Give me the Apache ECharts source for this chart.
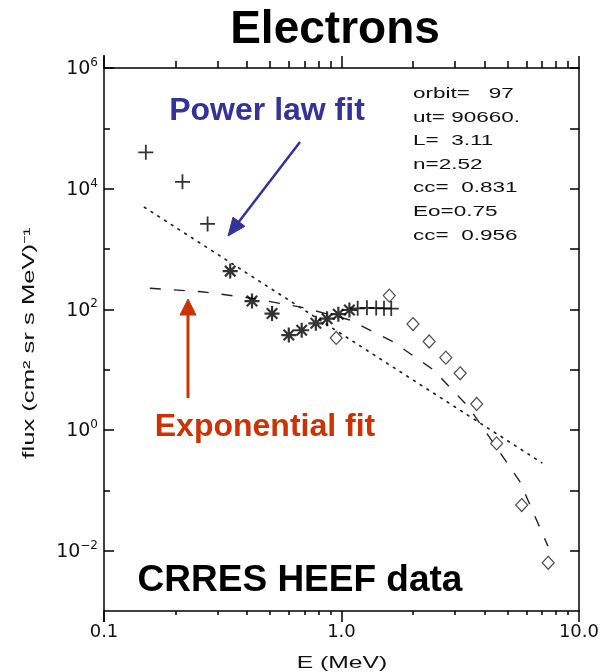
<!DOCTYPE html>
<html>
<head>
<meta charset="utf-8">
<script src="https://cdn.jsdelivr.net/npm/echarts@6/dist/echarts.min.js"></script>
<style>
html, body { margin: 0; padding: 0; background: #fff; }
#chart { width: 602px; height: 672px; }
</style>
</head>
<body>
<div id="chart"></div>
<script>
// CRRES HEEF electron spectrum: energy E (MeV) against differential flux.
// Both axes are logarithmic; values are kept in physical units and mapped
// to log10 space for the value axes below.

// Low-energy channels (+)
const lowPlusE = [0.150, 0.214, 0.273];
const lowPlusFlux = [40000, 13000, 2600];

// Mid-energy channels (*)
const starE = [0.34, 0.42, 0.51, 0.60, 0.68, 0.78, 0.87, 0.97, 1.08];
const starFlux = [430, 137, 85, 37.5, 45, 58.6, 70, 83, 97.5];

// Overlapping channels near 1 MeV (+)
const highPlusE = [1.17, 1.28, 1.40, 1.51, 1.62];
const highPlusFlux = [104, 106, 105, 104, 103];

// High-energy channels (diamonds)
const diamondE = [0.95, 1.59, 2.0, 2.34, 2.75, 3.16, 3.71, 4.50, 5.74, 7.42];
const diamondFlux = [33.5, 169, 57, 29.3, 15.8, 8.7, 2.7, 0.60, 0.057, 0.0063];

// Power-law fit (dotted), n = 2.52
const powerLawE = [0.148, 6.97];
const powerLawFlux = [4910, 0.287];

// Exponential fit (dashed), Eo = 0.75
const expFitE = [0.156, 0.258, 0.412, 0.682, 1.086, 1.65, 2.44, 3.42, 4.43, 5.64, 7.40];
const expFitFlux = [223, 196, 154, 108, 66.5, 29, 9.9, 2.43, 0.56, 0.139, 0.0119];

// Axis ticks
const xMajorTicks = [0.1, 1, 10];
const xTickLabels = ['0.1', '1.0', '10.0'];
const xMinorTicks = [0.2, 0.3, 0.4, 0.5, 0.6, 0.7, 0.8, 0.9, 2, 3, 4, 5, 6, 7, 8, 9];
const yLabelledDecades = [-2, 0, 2, 4, 6];
const yMinorDecades = [-1, 1, 3, 5];
const yRange = [-3, 6];

// Fit parameters printed in the corner
const paramLines = ['orbit=   97', 'ut= 90660.', 'L=  3.11', 'n=2.52', 'cc=  0.831', 'Eo=0.75', 'cc=  0.956'];

const lg = Math.log10;
const pairs = (xs, ys) => xs.map((x, i) => [lg(x), lg(ys[i])]);

const INK = '#000';
const AXIS_FONT = 'DejaVu Sans';
const SANS = 'Liberation Sans, Arial, sans-serif';

const plusPath = 'path://M0,5L10,5M5,0L5,10';
const starPath = 'path://M0,5L10,5M5,0L5,10M1.5,1.5L8.5,8.5M8.5,1.5L1.5,8.5';

function xAxisDef(position, values, len, withLine, withLabels) {
  return {
    type: 'value', position: position, min: -1, max: 1, interval: 1,
    axisLine: { show: withLine, onZero: false, lineStyle: { color: INK, width: 1.5 } },
    axisTick: { show: true, inside: false, length: len, customValues: values,
      lineStyle: { color: INK, width: 1.5 } },
    axisLabel: withLabels ? {
      show: true, margin: 12, fontSize: 18, color: '#111', fontFamily: AXIS_FONT,
      formatter: function (v) {
        const i = xMajorTicks.findIndex(t => Math.abs(lg(t) - v) < 1e-6);
        return i >= 0 ? xTickLabels[i] : '';
      }
    } : { show: false },
    splitLine: { show: false }
  };
}

function yAxisDef(position, values, len, withLine, withLabels) {
  return {
    type: 'value', position: position, min: yRange[0], max: yRange[1], interval: 1,
    axisLine: { show: withLine, onZero: false, lineStyle: { color: INK, width: 1.5 } },
    axisTick: { show: true, inside: true, length: len, customValues: values,
      lineStyle: { color: INK, width: 1.5 } },
    axisLabel: withLabels ? {
      show: true, margin: 6, customValues: values,
      formatter: function (v) {
        const e = Math.round(v);
        return '{b|10}{s|' + (e < 0 ? '\u2212' + (-e) : e) + '}';
      },
      rich: {
        b: { fontSize: 19, fontFamily: AXIS_FONT, color: '#111', lineHeight: 22, verticalAlign: 'bottom' },
        s: { fontSize: 12, fontFamily: AXIS_FONT, color: '#111', lineHeight: 12, verticalAlign: 'top' }
      }
    } : { show: false },
    splitLine: { show: false }
  };
}

function arrow(tail, tip, color, width, headLen, headHalf) {
  const dx = tip[0] - tail[0], dy = tip[1] - tail[1];
  const d = Math.hypot(dx, dy);
  const ux = dx / d, uy = dy / d;
  const bx = tip[0] - ux * headLen, by = tip[1] - uy * headLen;
  return [
    { type: 'polyline', silent: true,
      shape: { points: [tail, [bx + ux * 2, by + uy * 2]] },
      style: { stroke: color, lineWidth: width, fill: null } },
    { type: 'polygon', silent: true,
      shape: { points: [tip, [bx - uy * headHalf, by + ux * headHalf], [bx + uy * headHalf, by - ux * headHalf]] },
      style: { fill: color, stroke: color, lineWidth: 1 } }
  ];
}

const chart = echarts.init(document.getElementById('chart'), null, { renderer: 'canvas' });

const option = {
  animation: false,
  backgroundColor: '#fff',
  grid: { left: 104, top: 68, width: 475, height: 543, containLabel: false },
  xAxis: [
    xAxisDef('bottom', xMajorTicks.map(lg), 11, true, true),
    xAxisDef('bottom', xMinorTicks.map(lg), 4, false, false),
    xAxisDef('top', xMajorTicks.map(lg), 12, true, false),
    xAxisDef('top', xMinorTicks.map(lg), 7, false, false)
  ],
  yAxis: [
    yAxisDef('left', yLabelledDecades, 10, true, true),
    yAxisDef('left', yMinorDecades, 6, false, false),
    yAxisDef('right', yLabelledDecades.concat(yMinorDecades), 9, true, false)
  ],
  series: [
    {
      name: 'Power law fit', type: 'line', data: pairs(powerLawE, powerLawFlux),
      symbol: 'none', silent: true, z: 2,
      lineStyle: { color: '#222', width: 1.7, type: [1.7, 6.3], cap: 'round' }
    },
    {
      name: 'Exponential fit', type: 'line', data: pairs(expFitE, expFitFlux),
      symbol: 'none', silent: true, z: 2,
      lineStyle: { color: '#222', width: 1.4, type: [11, 13] }
    },
    {
      name: 'low +', type: 'scatter', data: pairs(lowPlusE, lowPlusFlux),
      symbol: plusPath, symbolSize: 15, z: 3,
      itemStyle: { color: 'transparent', borderColor: INK, borderWidth: 1.8 }
    },
    {
      name: 'mid *', type: 'scatter', data: pairs(starE, starFlux),
      symbol: starPath, symbolSize: 15, z: 3,
      itemStyle: { color: 'transparent', borderColor: INK, borderWidth: 2.2 }
    },
    {
      name: 'high +', type: 'scatter', data: pairs(highPlusE, highPlusFlux),
      symbol: plusPath, symbolSize: 15, z: 3,
      itemStyle: { color: 'transparent', borderColor: INK, borderWidth: 1.8 }
    },
    {
      name: 'diamonds', type: 'scatter', data: pairs(diamondE, diamondFlux),
      symbol: 'diamond', symbolSize: [12, 13], z: 3,
      itemStyle: { color: '#fff', borderColor: '#222', borderWidth: 1.2 }
    }
  ],
  graphic: [
    { type: 'text', x: 335, y: 30, silent: true,
      style: { text: 'Electrons', fontSize: 46, fontWeight: 'bold', fontFamily: SANS,
        fill: '#000', align: 'center', verticalAlign: 'middle' } },
    { type: 'text', x: 267, y: 111, silent: true,
      style: { text: 'Power law fit', fontSize: 32, fontWeight: 'bold', fontFamily: SANS,
        fill: '#333399', align: 'center', verticalAlign: 'middle' } },
    { type: 'text', x: 265, y: 427, silent: true,
      style: { text: 'Exponential fit', fontSize: 32, fontWeight: 'bold', fontFamily: SANS,
        fill: '#cc3300', align: 'center', verticalAlign: 'middle' } },
    { type: 'text', x: 300, y: 581, silent: true,
      style: { text: 'CRRES HEEF data', fontSize: 37, fontWeight: 'bold', fontFamily: SANS,
        fill: '#000', align: 'center', verticalAlign: 'middle' } },
    { type: 'text', x: 413, y: 82, scaleX: 1.5, silent: true,
      style: { text: paramLines.join('\n'), fontSize: 15, fontFamily: SANS, lineHeight: 23.6,
        fill: '#111', align: 'left', verticalAlign: 'top' } },
    { type: 'text', x: 342, y: 663, scaleX: 1.45, silent: true,
      style: { text: 'E (MeV)', fontSize: 17, fontFamily: SANS,
        fill: '#111', align: 'center', verticalAlign: 'middle' } },
    { type: 'text', x: 30, y: 343, rotation: Math.PI / 2, scaleX: 1.6, silent: true,
      style: { text: 'flux (cm\u00B2 sr s MeV)\u207B\u00B9', fontSize: 16, fontFamily: SANS,
        fill: '#111', align: 'center', verticalAlign: 'middle' } },
    // left axis line runs a little past the frame at both ends
    { type: 'line', silent: true, shape: { x1: 104, y1: 55, x2: 104, y2: 68 },
      style: { stroke: INK, lineWidth: 1.5 } },
    { type: 'line', silent: true, shape: { x1: 104, y1: 611, x2: 104, y2: 622 },
      style: { stroke: INK, lineWidth: 1.5 } }
  ]
    .concat(arrow([300, 142], [228, 236], '#333399', 2.5, 18, 7.5))
    .concat(arrow([188, 398], [188, 299], '#cc3300', 3, 16, 8))
};

chart.setOption(option);
</script>
</body>
</html>
